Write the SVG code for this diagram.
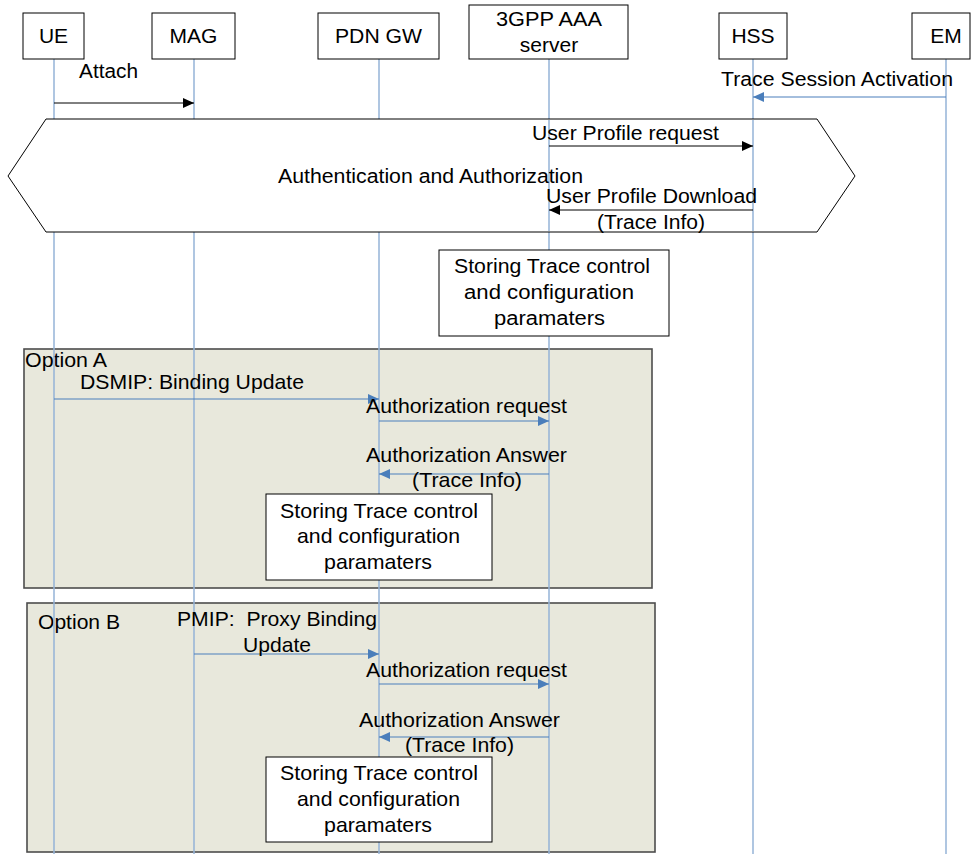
<svg xmlns="http://www.w3.org/2000/svg" width="971" height="854" viewBox="0 0 971 854">
<style>
text{font-family:"Liberation Sans",Arial,sans-serif;font-size:20px;fill:#000}
.h{font-size:21px}
.lo text{font-size:21px}
.box{fill:#fff;stroke:#000;stroke-width:1}
.life{stroke:#95b3d7;stroke-width:1.5;fill:none}
.opt{fill:#e8e8dc;stroke:#4d4d4d;stroke-width:1.6}
.blk{stroke:#000;stroke-width:1;fill:none}
.blu{stroke:#4a7ebb;stroke-width:1.2;fill:none}
.c{text-anchor:middle}
</style>
<defs>
<marker id="ab" markerUnits="userSpaceOnUse" markerWidth="11" markerHeight="10" refX="11" refY="5" orient="auto"><path d="M0,0 L11,5 L0,10 z" fill="#000"/></marker>
<marker id="au" markerUnits="userSpaceOnUse" markerWidth="11" markerHeight="10" refX="11" refY="5" orient="auto"><path d="M0,0 L11,5 L0,10 z" fill="#4a7ebb"/></marker>
</defs>
<rect width="971" height="854" fill="#fff"/>
<g class="lo">
<g id="optionA"><rect class="opt" x="24" y="349" width="628" height="239"/><text x="25" y="367" textLength="82" lengthAdjust="spacingAndGlyphs">Option A</text></g>
<g id="optionB"><rect class="opt" x="27" y="603" width="628" height="249"/><text x="38" y="629" textLength="82" lengthAdjust="spacingAndGlyphs">Option B</text></g>
</g>
<g id="lifelines">
<line class="life" x1="54" y1="59" x2="54" y2="854"/>
<line class="life" x1="194" y1="59" x2="194" y2="854"/>
<line class="life" x1="379" y1="59" x2="379" y2="854"/>
<line class="life" x1="549" y1="59" x2="549" y2="854"/>
<line class="life" x1="753" y1="59" x2="753" y2="854"/>
<line class="life" x1="946" y1="59" x2="946" y2="854"/>
</g>
<g id="authBlock">
<polygon class="box" points="46,119 817,119 855,176 817,232 46,232 8,176"/>
<line class="life" x1="549" y1="120" x2="549" y2="231"/>
<line class="life" x1="753" y1="120" x2="753" y2="231"/>
<text x="278" y="183" textLength="305" lengthAdjust="spacingAndGlyphs">Authentication and Authorization</text>
</g>
<g id="ue"><rect class="box" x="23" y="13" width="61" height="46"/><text class="c h" x="53.5" y="43">UE</text></g>
<g id="mag"><rect class="box" x="152" y="13" width="83" height="46"/><text class="c h" x="193.5" y="43">MAG</text></g>
<g id="pdngw"><rect class="box" x="318" y="13" width="121" height="46"/><text class="c h" x="378.5" y="43" textLength="87" lengthAdjust="spacingAndGlyphs">PDN GW</text></g>
<g id="aaa"><rect class="box" x="469" y="5" width="159" height="54"/><text class="c h" x="549" y="26" textLength="106" lengthAdjust="spacingAndGlyphs">3GPP AAA</text><text class="c h" x="549" y="52">server</text></g>
<g id="hss"><rect class="box" x="719" y="13" width="68" height="46"/><text class="c h" x="753" y="43">HSS</text></g>
<g id="em"><rect class="box" x="912" y="13" width="58" height="46"/><text class="c h" x="946" y="43">EM</text></g>
<g id="storeTop"><rect class="box" x="439" y="250" width="230" height="86"/>
<text class="c" x="552" y="273" textLength="196" lengthAdjust="spacingAndGlyphs">Storing Trace control</text>
<text class="c" x="549" y="299" textLength="170" lengthAdjust="spacingAndGlyphs">and configuration</text>
<text class="c" x="549.5" y="325" textLength="111" lengthAdjust="spacingAndGlyphs">paramaters</text></g>
<g class="lo">
<g id="storeA"><rect class="box" x="266" y="494" width="226" height="86"/>
<text class="c" x="379" y="518" textLength="198" lengthAdjust="spacingAndGlyphs">Storing Trace control</text>
<text class="c" x="378.5" y="543" textLength="163" lengthAdjust="spacingAndGlyphs">and configuration</text>
<text class="c" x="378" y="569" textLength="108" lengthAdjust="spacingAndGlyphs">paramaters</text></g>
<g id="storeB"><rect class="box" x="266" y="757" width="226" height="85"/>
<text class="c" x="379" y="780" textLength="198" lengthAdjust="spacingAndGlyphs">Storing Trace control</text>
<text class="c" x="378.5" y="806" textLength="163" lengthAdjust="spacingAndGlyphs">and configuration</text>
<text class="c" x="378" y="832" textLength="108" lengthAdjust="spacingAndGlyphs">paramaters</text></g>
</g>
<g id="connectors">
<line class="blk" x1="54" y1="103" x2="194" y2="103" marker-end="url(#ab)"/>
<line class="blu" x1="946" y1="97" x2="753" y2="97" marker-end="url(#au)"/>
<line class="blk" x1="549" y1="146" x2="753" y2="146" marker-end="url(#ab)"/>
<line class="blk" x1="753" y1="210" x2="549" y2="210" marker-end="url(#ab)"/>
<line class="blu" x1="54" y1="399" x2="379" y2="399" marker-end="url(#au)"/>
<line class="blu" x1="379" y1="421" x2="549" y2="421" marker-end="url(#au)"/>
<line class="blu" x1="549" y1="474" x2="379" y2="474" marker-end="url(#au)"/>
<line class="blu" x1="194" y1="654" x2="379" y2="654" marker-end="url(#au)"/>
<line class="blu" x1="379" y1="684" x2="549" y2="684" marker-end="url(#au)"/>
<line class="blu" x1="549" y1="737" x2="379" y2="737" marker-end="url(#au)"/>
</g>
<g id="labels">
<text x="79" y="78" textLength="59" lengthAdjust="spacingAndGlyphs">Attach</text>
<text x="721" y="86" textLength="232" lengthAdjust="spacingAndGlyphs">Trace Session Activation</text>
<text x="532" y="140" textLength="187" lengthAdjust="spacingAndGlyphs">User Profile request</text>
<text x="546" y="203" textLength="211" lengthAdjust="spacingAndGlyphs">User Profile Download</text>
<text x="597" y="229" textLength="108" lengthAdjust="spacingAndGlyphs">(Trace Info)</text>
<g class="lo">
<text x="80" y="389" textLength="224" lengthAdjust="spacingAndGlyphs">DSMIP: Binding Update</text>
<text x="366" y="413" textLength="201" lengthAdjust="spacingAndGlyphs">Authorization request</text>
<text x="366" y="462" textLength="201" lengthAdjust="spacingAndGlyphs">Authorization Answer</text>
<text x="412" y="487" textLength="110" lengthAdjust="spacingAndGlyphs">(Trace Info)</text>
<text x="177" y="626" textLength="200" lengthAdjust="spacingAndGlyphs" xml:space="preserve">PMIP:  Proxy Binding</text>
<text x="243" y="652" textLength="68" lengthAdjust="spacingAndGlyphs">Update</text>
<text x="366" y="677" textLength="201" lengthAdjust="spacingAndGlyphs">Authorization request</text>
<text x="359" y="727" textLength="201" lengthAdjust="spacingAndGlyphs">Authorization Answer</text>
<text x="405" y="752" textLength="109" lengthAdjust="spacingAndGlyphs">(Trace Info)</text>
</g>
</g>
</svg>
